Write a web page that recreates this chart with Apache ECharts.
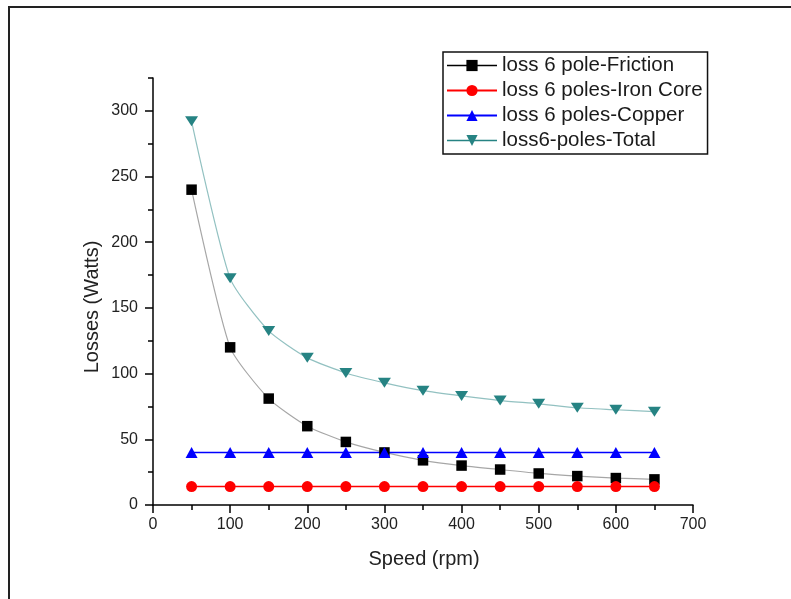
<!DOCTYPE html>
<html><head><meta charset="utf-8">
<script src="https://cdn.jsdelivr.net/npm/echarts@6/dist/echarts.min.js"></script>
<style>html,body{margin:0;padding:0;background:#fff}#c{width:791px;height:599px}</style>
</head><body><div id="c"></div>
<script>
const speed = [50, 100, 150, 200, 250, 300, 350, 400, 450, 500, 550, 600, 650];
const friction = [240, 120, 81, 60, 48, 40, 34, 30, 27, 24, 22, 20.5, 19.5];
const ironCore = [14, 14, 14, 14, 14, 14, 14, 14, 14, 14, 14, 14, 14];
const copper = [40, 40, 40, 40, 40, 40, 40, 40, 40, 40, 40, 40, 40];
const total = [292, 172.5, 132.5, 112, 100.5, 93, 87, 83, 79.5, 77, 74, 72.5, 71];
const seriesNames = ['loss 6 pole-Friction', 'loss 6 poles-Iron Core', 'loss 6 poles-Copper', 'loss6-poles-Total'];
const yMajorTicks = [0, 50, 100, 150, 200, 250, 300];
const yMinorTicks = [25, 75, 125, 175, 225, 275, 325];
const xTicks = [0, 100, 200, 300, 400, 500, 600, 700];

const FONT = '"Liberation Sans", Arial, sans-serif';
const pairs = arr => speed.map((x, i) => [x, arr[i]]);

const chart = echarts.init(document.getElementById('c'), null, {renderer: 'canvas'});
const tickStyle = {color: '#000', width: 1.5};
chart.setOption({
  animation: false,
  backgroundColor: '#fff',
  grid: {left: 153, right: 98, top: 78, bottom: 94},
  xAxis: {
    type: 'value', min: 0, max: 700, interval: 100,
    axisLine: {show: true, lineStyle: tickStyle},
    axisTick: {show: true, length: 8, lineStyle: tickStyle},
    minorTick: {show: true, splitNumber: 2, length: 5, lineStyle: tickStyle},
    axisLabel: {margin: 12, fontSize: 16, color: '#222', fontFamily: FONT},
    splitLine: {show: false}, minorSplitLine: {show: false}
  },
  yAxis: [{
    type: 'value', min: 0, max: 325, position: 'left',
    axisLine: {show: true, lineStyle: tickStyle},
    axisTick: {show: true, length: 8, customValues: yMajorTicks, lineStyle: tickStyle},
    axisLabel: {customValues: yMajorTicks, margin: 15, fontSize: 16, color: '#222', fontFamily: FONT},
    splitLine: {show: false}
  }, {
    type: 'value', min: 0, max: 325, position: 'left', offset: 0,
    axisLine: {show: false},
    axisTick: {show: true, length: 5, customValues: yMinorTicks, lineStyle: tickStyle},
    axisLabel: {show: false},
    splitLine: {show: false}
  }],
  legend: {
    orient: 'vertical', left: 443, top: 52,
    padding: [3, 5, 3, 3], itemGap: 4, itemWidth: 50, itemHeight: 14,
    borderColor: '#111', borderWidth: 1.5, backgroundColor: '#fff',
    selectedMode: false,
    textStyle: {fontFamily: FONT, fontSize: 20.5, color: '#1a1a1a', lineHeight: 20},
    data: [
      {name: seriesNames[0], lineStyle: {opacity: 1, width: 1.5}},
      {name: seriesNames[1]},
      {name: seriesNames[2]},
      {name: seriesNames[3], lineStyle: {opacity: 1, width: 1.5}}
    ]
  },
  graphic: [
    {type: 'rect', silent: true, z: -10, shape: {x: 9, y: 7, width: 900, height: 900},
     style: {fill: 'none', stroke: '#222', lineWidth: 2}},
    {type: 'text', x: 92, y: 307, rotation: Math.PI / 2,
     style: {text: 'Losses (Watts)', font: '20px ' + FONT, fill: '#222', align: 'center', verticalAlign: 'middle'}},
    {type: 'text', x: 424, y: 559,
     style: {text: 'Speed (rpm)', font: '20px ' + FONT, fill: '#222', align: 'center', verticalAlign: 'middle'}}
  ],
  series: [
    {name: seriesNames[0], type: 'line', data: pairs(friction), smooth: 0.2,
     symbol: 'rect', symbolSize: 10.5, itemStyle: {color: '#000'},
     lineStyle: {color: '#000', width: 1.2, opacity: 0.35}},
    {name: seriesNames[1], type: 'line', data: pairs(ironCore),
     symbol: 'circle', symbolSize: 11, itemStyle: {color: '#ff0000'},
     lineStyle: {color: '#ff0000', width: 1.5}},
    {name: seriesNames[2], type: 'line', data: pairs(copper),
     symbol: 'triangle', symbolSize: [12, 11], itemStyle: {color: '#0000ff'},
     lineStyle: {color: '#0000ff', width: 1.5}},
    {name: seriesNames[3], type: 'line', data: pairs(total), smooth: 0.2,
     symbol: 'triangle', symbolRotate: 180, symbolSize: [13, 10], itemStyle: {color: '#268383'},
     lineStyle: {color: '#268383', width: 1.2, opacity: 0.5}}
  ]
});
</script></body></html>
